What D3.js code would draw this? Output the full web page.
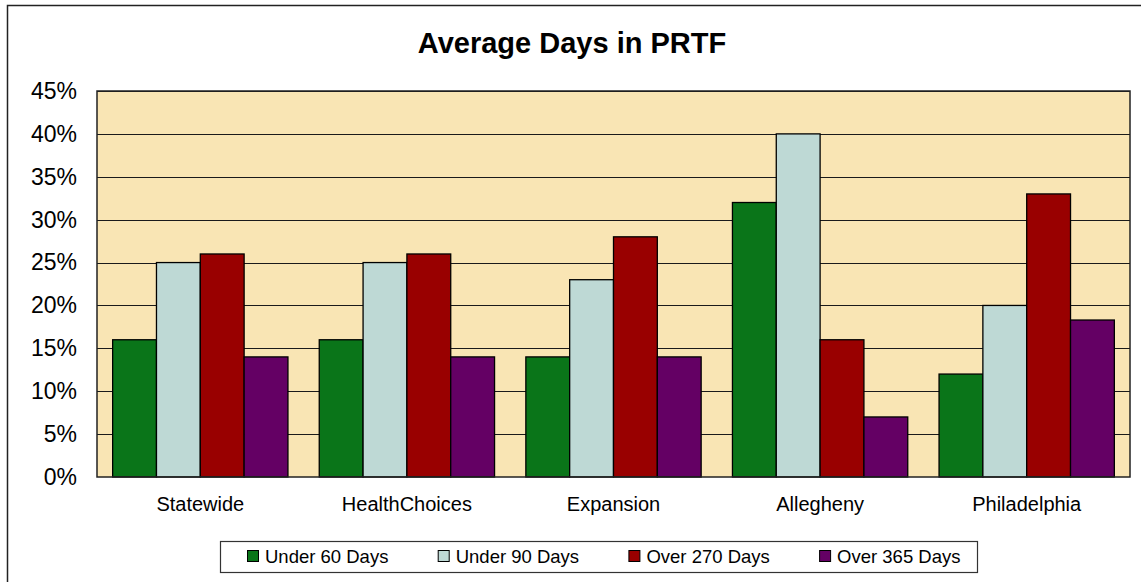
<!DOCTYPE html>
<html>
<head>
<meta charset="utf-8">
<script src="https://cdn.jsdelivr.net/npm/d3@7"></script>
<style>
  body { margin: 0; background: #fff; }
  text { font-family: Arial, "Liberation Sans", sans-serif; fill: #000; }
</style>
</head>
<body>
<div id="chart"></div>
<script>
// data
var categories = ["Statewide", "HealthChoices", "Expansion", "Allegheny", "Philadelphia"];
var seriesNames = ["Under 60 Days", "Under 90 Days", "Over 270 Days", "Over 365 Days"];
var under60 = [16, 16, 14, 32, 12];
var under90 = [25, 25, 23, 40, 20];
var over270 = [26, 26, 28, 16, 33];
var over365 = [14, 14, 14, 7, 18.3];
var yTicks = [0, 5, 10, 15, 20, 25, 30, 35, 40, 45];

var seriesValues = [under60, under90, over270, over365];
var colors = ["#0a7519", "#bed9d5", "#990000", "#640064"];

var W = 1141, H = 582;
var margin = {top: 91, right: 11, bottom: 105, left: 97},
    width = W - margin.left - margin.right,
    height = H - margin.top - margin.bottom;

var svg = d3.select("#chart")
  .append("svg")
    .attr("width", W)
    .attr("height", H);

// outer chart frame (runs off the right / bottom edge like the original)
svg.append("rect")
  .attr("x", 7.5).attr("y", 5.5)
  .attr("width", W + 20).attr("height", H + 20)
  .attr("fill", "#fff")
  .attr("stroke", "#222")
  .attr("stroke-width", 1.5);

// title
svg.append("text")
  .attr("x", 572)
  .attr("y", 53)
  .attr("text-anchor", "middle")
  .style("font-size", "29px")
  .style("font-weight", "bold")
  .text("Average Days in PRTF");

var g = svg.append("g")
  .attr("transform", "translate(" + margin.left + "," + margin.top + ")");

// scales
var x0 = d3.scaleBand()
  .domain(categories)
  .range([0, width])
  .padding(0);

var gap = x0.bandwidth() * 0.1515;
var x1 = d3.scaleBand()
  .domain(seriesNames)
  .range([gap / 2, x0.bandwidth() - gap / 2])
  .padding(0);

var y = d3.scaleLinear()
  .domain([0, 45])
  .range([height, 0]);

// plot background
g.append("rect")
  .attr("x", 0).attr("y", 0)
  .attr("width", width).attr("height", height)
  .attr("fill", "#f9e5b4");

// gridlines
g.append("g")
  .selectAll("line")
  .data(yTicks.slice(1))
  .enter()
  .append("line")
    .attr("x1", 0).attr("x2", width)
    .attr("y1", function(d) { return Math.round(y(d)) + 0.5; })
    .attr("y2", function(d) { return Math.round(y(d)) + 0.5; })
    .attr("stroke", "#1a1a1a")
    .attr("stroke-width", 1);

// Y axis labels
var yAxis = g.append("g")
  .call(d3.axisLeft(y).tickValues(yTicks).tickSize(0).tickPadding(20)
    .tickFormat(function(d) { return d + "%"; }));
yAxis.select(".domain").remove();
yAxis.selectAll("text")
  .style("font-size", "23px")
  .style("font-family", "Arial, 'Liberation Sans', sans-serif")
  .attr("fill", "#000");

// bars
var groups = g.selectAll(".grp")
  .data(categories)
  .enter()
  .append("g")
    .attr("class", "grp")
    .attr("transform", function(d) { return "translate(" + x0(d) + ",0)"; });

groups.selectAll("rect")
  .data(function(d, i) {
    return seriesNames.map(function(s, j) { return {key: s, value: seriesValues[j][i], idx: j}; });
  })
  .enter()
  .append("rect")
    .attr("x", function(d) { return x1(d.key); })
    .attr("y", function(d) { return y(d.value); })
    .attr("width", x1.bandwidth())
    .attr("height", function(d) { return height - y(d.value); })
    .attr("fill", function(d) { return colors[d.idx]; })
    .attr("stroke", "#000")
    .attr("stroke-width", 1.3);

// plot area border
g.append("rect")
  .attr("x", 0).attr("y", 0)
  .attr("width", width).attr("height", height)
  .attr("fill", "none")
  .attr("stroke", "#222")
  .attr("stroke-width", 1.5);

// X axis labels
var xAxis = g.append("g")
  .attr("transform", "translate(0," + height + ")")
  .call(d3.axisBottom(x0).tickSize(0).tickPadding(20));
xAxis.select(".domain").remove();
xAxis.selectAll("text")
  .style("font-size", "20px")
  .style("font-family", "Arial, 'Liberation Sans', sans-serif")
  .attr("fill", "#000");

// legend
var legend = svg.append("g");
legend.append("rect")
  .attr("x", 220.5).attr("y", 541.5)
  .attr("width", 757).attr("height", 31)
  .attr("fill", "#fff")
  .attr("stroke", "#333")
  .attr("stroke-width", 1.2);

var item = legend.selectAll(".item")
  .data(seriesNames)
  .enter()
  .append("g")
    .attr("class", "item")
    .attr("transform", function(d, i) { return "translate(" + (247 + i * 190.7) + ",550)"; });

item.append("rect")
  .attr("x", 0.5).attr("y", 0.5)
  .attr("width", 11).attr("height", 11)
  .attr("fill", function(d, i) { return colors[i]; })
  .attr("stroke", "#000")
  .attr("stroke-width", 1);

item.append("text")
  .attr("x", 18)
  .attr("y", 12.5)
  .style("font-size", "18.5px")
  .text(function(d) { return d; });
</script>
</body>
</html>
